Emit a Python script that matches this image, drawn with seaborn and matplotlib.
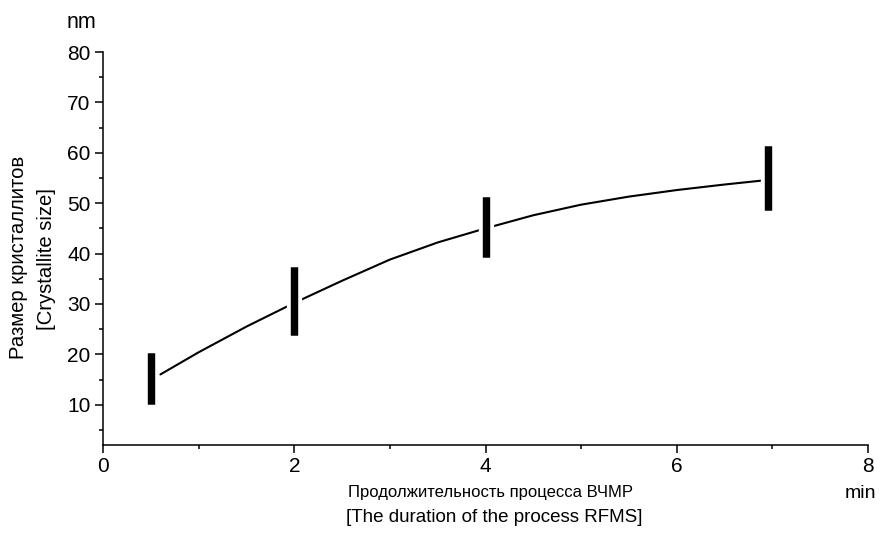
import matplotlib
matplotlib.use("Agg")
import matplotlib.pyplot as plt
import matplotlib.patheffects as pe
from matplotlib.ticker import MultipleLocator
import seaborn as sns
import pandas as pd

# Measured points (process duration, min) with crystallite-size ranges (nm)
times = [0.5, 2.0, 4.0, 6.95]
size_low = [10.2, 23.9, 39.4, 48.7]
size_high = [20.3, 37.4, 51.3, 61.4]

# Fitted trend curve
curve_x = [0.6, 1.0, 1.5, 2.0, 2.5, 3.0, 3.5, 4.0, 4.5, 5.0, 5.5, 6.0, 6.5, 6.9]
curve_y = [16.0, 20.4, 25.5, 30.2, 34.6, 38.8, 42.2, 45.0, 47.6, 49.7, 51.3, 52.6, 53.7, 54.5]

x_ticks = [0, 2, 4, 6, 8]
y_ticks = [10, 20, 30, 40, 50, 60, 70, 80]

sns.set_theme(style="ticks")
plt.rcParams['font.family'] = ['Liberation Sans', 'DejaVu Sans']
plt.rcParams['text.color'] = 'black'

fig = plt.figure(figsize=(8.81, 5.34), dpi=100)
ax = fig.add_axes([103 / 881, 1 - 445 / 534, (868 - 103) / 881, (445 - 52) / 534])

curve = pd.DataFrame({"t": curve_x, "d": curve_y})
sns.lineplot(data=curve, x="t", y="d", color="black", linewidth=1.5, ax=ax, zorder=2)

ax.vlines(times, size_low, size_high, colors="black", linewidth=5.2, zorder=3,
          path_effects=[pe.withStroke(linewidth=11, foreground="white"), pe.Normal()])

ax.set_xlim(0, 8)
ax.set_ylim(2, 80)
ax.set_xticks(x_ticks)
ax.set_yticks(y_ticks)
ax.xaxis.set_minor_locator(MultipleLocator(1))
ax.yaxis.set_minor_locator(MultipleLocator(5))
ax.tick_params(which="major", direction="out", length=6, width=1.1, labelsize=15,
               color="black", labelcolor="black", pad=3)
ax.tick_params(which="minor", direction="out", length=3, width=1.1, color="black")
ax.set_xlabel("")
ax.set_ylabel("")
for side in ["top", "right"]:
    ax.spines[side].set_visible(False)
for side in ["left", "bottom"]:
    ax.spines[side].set_linewidth(1.1)
    ax.spines[side].set_color("black")

W, H = 881, 534
fig.text(81 / W, 1 - 22 / H, "nm", fontsize=15.5, ha="center", va="center")
fig.text(860 / W, 1 - 493 / H, "min", fontsize=14, ha="center", va="center")
fig.text(348 / W, 1 - 492 / H, "Продолжительность процесса ВЧМР", fontsize=12,
         ha="left", va="center")
fig.text(346 / W, 1 - 518 / H, "[The duration of the process RFMS]", fontsize=13.5,
         ha="left", va="center")
fig.text(19 / W, 1 - 257 / H, "Размер кристаллитов", fontsize=14.6, rotation=90,
         ha="center", va="center")
fig.text(47 / W, 1 - 259 / H, "[Crystallite size]", fontsize=14.6, rotation=90,
         ha="center", va="center")

fig.savefig("out.png", dpi=100, facecolor="white")
